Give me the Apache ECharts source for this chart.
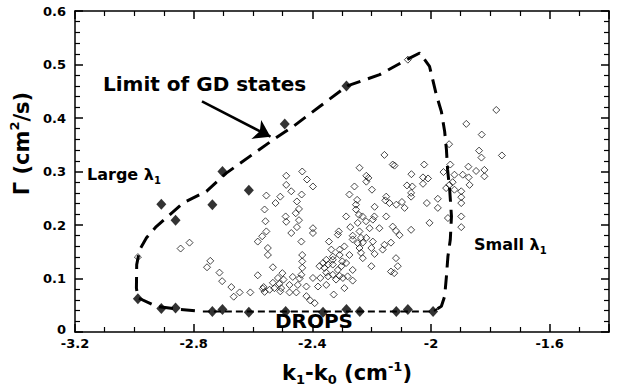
<!DOCTYPE html>
<html><head><meta charset="utf-8">
<script src="https://cdn.jsdelivr.net/npm/echarts/dist/echarts.min.js"></script>
<style>html,body{margin:0;padding:0;background:#fff}#c{width:622px;height:390px}</style>
</head><body><div id="c"></div>
<script>
// Axis ranges / ticks
const xRange = [-3.2, -1.4], xStep = 0.4;
const yRange = [0, 0.6], yStep = 0.1;

// Open diamonds: GD states (k1-k0, Gamma)
const openPts = [
[-2.844,0.156],[-2.814,0.167],[-2.755,0.121],[-2.744,0.133],[-2.713,0.111],[-2.704,0.095],[-2.673,0.084],[-2.645,0.074],[-2.665,0.066],[-2.609,0.074],[-2.584,0.106],[-2.567,0.081],[-2.561,0.075],
[-2.584,0.169],[-2.569,0.179],[-2.555,0.188],[-2.558,0.207],[-2.561,0.229],[-2.550,0.157],[-2.550,0.144],[-2.555,0.255],[-2.524,0.241],[-2.508,0.253],[-2.488,0.292],[-2.488,0.275],[-2.471,0.263],[-2.490,0.216],[-2.488,0.206],[-2.471,0.185],[-2.452,0.244],[-2.445,0.230],[-2.436,0.257],[-2.434,0.300],[-2.418,0.285],[-2.398,0.272],[-2.456,0.222],[-2.445,0.209],[-2.452,0.196],[-2.437,0.169],[-2.434,0.144],[-2.434,0.132],[-2.434,0.120],[-2.437,0.107],[-2.398,0.194],[-2.398,0.185],[-2.533,0.121],
[-2.564,0.084],[-2.544,0.079],[-2.533,0.092],[-2.516,0.101],[-2.511,0.090],[-2.505,0.082],[-2.528,0.082],[-2.508,0.076],[-2.497,0.098],[-2.501,0.110],[-2.477,0.088],[-2.477,0.074],[-2.454,0.074],[-2.466,0.103],[-2.449,0.088],[-2.420,0.085],[-2.420,0.067],[-2.407,0.059],[-2.392,0.054],[-2.381,0.085],[-2.443,0.100],
[-2.311,0.188],[-2.286,0.216],[-2.275,0.257],[-2.258,0.272],[-2.249,0.247],[-2.253,0.229],[-2.247,0.204],[-2.264,0.173],[-2.275,0.144],[-2.286,0.129],[-2.292,0.160],[-2.331,0.126],[-2.353,0.135],[-2.373,0.101],[-2.353,0.111],[-2.336,0.154],[-2.331,0.141],[-2.344,0.169],[-2.302,0.123],[-2.376,0.123],[-2.353,0.088],[-2.328,0.070],[-2.297,0.101],[-2.292,0.082],[-2.264,0.116],[-2.314,0.116],[-2.308,0.105],[-2.264,0.096],[-2.281,0.104],[-2.320,0.098],[-2.308,0.144],[-2.314,0.182],[-2.272,0.196],[-2.398,0.101],[-2.347,0.104],
[-2.157,0.331],[-2.129,0.313],[-2.241,0.307],[-2.218,0.292],[-2.211,0.288],[-2.218,0.281],[-2.199,0.266],[-2.253,0.238],[-2.190,0.234],[-2.151,0.253],[-2.154,0.246],[-2.140,0.241],[-2.231,0.216],[-2.219,0.207],[-2.191,0.216],[-2.174,0.194],[-2.207,0.194],[-2.241,0.188],[-2.264,0.180],[-2.236,0.176],[-2.230,0.167],[-2.247,0.166],[-2.241,0.157],[-2.218,0.176],[-2.196,0.169],[-2.201,0.157],[-2.190,0.146],[-2.157,0.163],[-2.135,0.167],[-2.163,0.154],[-2.201,0.123],[-2.236,0.148],[-2.308,0.154],[-2.299,0.132],[-2.364,0.129],[-2.347,0.126],[-2.331,0.135],[-2.359,0.120],[-2.331,0.107],[-2.243,0.219],[-2.196,0.210],[-2.151,0.216],[-2.230,0.138],[-2.135,0.113],[-2.118,0.138],[-2.112,0.123],[-2.124,0.110],
[-1.780,0.415],[-1.881,0.389],[-1.829,0.369],[-1.939,0.351],[-1.838,0.339],[-1.830,0.326],[-1.761,0.330],[-2.123,0.311],[-2.023,0.313],[-2.066,0.295],[-1.935,0.313],[-1.874,0.309],[-1.958,0.299],[-1.921,0.294],[-1.893,0.294],[-1.848,0.301],[-1.820,0.303],[-1.820,0.291],[-1.873,0.289],[-2.027,0.289],[-2.010,0.287],[-2.027,0.277],[-1.927,0.280],[-1.938,0.275],[-1.870,0.275],[-2.081,0.274],[-2.063,0.272],[-1.949,0.269],[-1.921,0.266],[-2.067,0.253],[-2.067,0.260],[-1.898,0.263],[-1.898,0.252],[-1.898,0.241],[-1.977,0.249],[-2.014,0.241],[-2.098,0.243],[-2.117,0.238],[-1.977,0.232],[-2.089,0.232],[-2.067,0.191],[-2.129,0.197],[-2.118,0.189],[-2.106,0.181],[-2.005,0.204],[-1.943,0.213],[-1.898,0.216],[-1.898,0.196],
[-2.078,0.509],[-2.988,0.140]
];

// Filled diamonds: limit points
const filledPts = [
[-2.909,0.239],[-2.861,0.209],[-2.737,0.238],[-2.614,0.265],[-2.703,0.300],[-2.493,0.389],[-2.285,0.460],
[-2.988,0.062],[-2.909,0.044],[-2.861,0.045],[-2.737,0.0385],[-2.703,0.042],[-2.614,0.037],[-2.490,0.0385],[-2.364,0.037],[-2.285,0.042],[-2.240,0.0385],[-2.117,0.0385],[-2.078,0.042],[-1.993,0.0385]
];

// Dashed limit curve (GD states)
const limitPath = [
[-1.978,0.0435],[-1.965,0.048],[-1.954,0.0665],[-1.948,0.104],[-1.943,0.141],[-1.935,0.1725],[-1.931,0.216],[-1.937,0.266],[-1.944,0.303],[-1.948,0.341],[-1.954,0.375],[-1.965,0.412],[-1.982,0.4435],[-2.005,0.4965],[-2.038,0.5215],[-2.072,0.512],[-2.173,0.481],[-2.282,0.460],[-2.374,0.422],[-2.465,0.384],[-2.533,0.359],[-2.690,0.297],[-2.757,0.263],[-2.836,0.241],[-2.881,0.219],[-2.926,0.197],[-2.959,0.176],[-2.982,0.154],[-2.992,0.126],[-2.993,0.082],[-2.988,0.064],[-2.926,0.048],[-2.858,0.043],[-2.769,0.0385]
];
// Dashed bottom (DROPS) line
const dropsPath = [[-2.769,0.0385],[-2.005,0.0385],[-1.988,0.040],[-1.978,0.0435]];

// Arrow from label to the limit curve
const arrowPts = [[-2.772,0.431],[-2.541,0.365]];

const FONT = '"DejaVu Sans", Verdana, sans-serif';
const chart = echarts.init(document.getElementById('c'), null, {renderer:'svg'});

function fmt(v) { return String(parseFloat(Number(v).toFixed(3))); }

function axisCommon(show, minorSplit, margin, showMax) {
  return {
    axisLine:{show:true, onZero:false, lineStyle:{color:'#000', width:1.5, opacity:1}},
    axisTick:{show:true, inside:true, length:8, lineStyle:{color:'#000', width:1.5, opacity:1}},
    minorTick:{show:true, splitNumber:minorSplit, length:5, lineStyle:{color:'#000', width:1.2, opacity:1}},
    splitLine:{show:false}, minorSplitLine:{show:false},
    axisLabel:{show:show, color:'#000', fontFamily:FONT, fontWeight:'bold', fontSize:13, lineHeight:13, margin:margin, showMaxLabel:showMax, showMinLabel:true}
  };
}
function xAx(pos, show) {
  return Object.assign({type:'value', position:pos, min:xRange[0], max:xRange[1], interval:xStep}, axisCommon(show, 4, 5, false));
}
function yAx(pos, show) {
  return Object.assign({type:'value', position:pos, min:yRange[0], max:yRange[1], interval:yStep}, axisCommon(show, 5, 9, true));
}
const xa0 = xAx('bottom', true);
xa0.name = '{m|k}{s|1}{m|-k}{s|0}{m| (cm}{p|-1}{m|)}';
xa0.nameLocation = 'middle';
xa0.nameGap = 28;
xa0.nameTextStyle = {color:'#000', fontFamily:FONT, fontWeight:'bold', fontSize:21, padding:[0,0,0,10],
  rich:{
    m:{fontFamily:FONT, fontWeight:'bold', fontSize:21, lineHeight:26, color:'#000'},
    s:{fontFamily:FONT, fontWeight:'bold', fontSize:13, lineHeight:11, verticalAlign:'bottom', color:'#000'},
    p:{fontFamily:FONT, fontWeight:'bold', fontSize:13, lineHeight:11, verticalAlign:'top', color:'#000'}
  }};
const ya0 = yAx('left', true);
ya0.axisLabel.formatter = function (v) { return v === 0 ? '{z|0}' : fmt(v); };
ya0.axisLabel.rich = {z:{fontFamily:FONT, fontWeight:'bold', fontSize:13, lineHeight:13, padding:[0,0,6,0], color:'#000'}};
ya0.name = '{m|Γ (cm}{p|2}{m|/s)}';
ya0.nameLocation = 'middle';
ya0.nameGap = 30;
ya0.nameTextStyle = {color:'#000', fontFamily:FONT, fontWeight:'bold', fontSize:21, padding:[0,0,0,56],
  rich:{
    m:{fontFamily:FONT, fontWeight:'bold', fontSize:21, lineHeight:28, color:'#000'},
    p:{fontFamily:FONT, fontWeight:'bold', fontSize:13, lineHeight:12, verticalAlign:'top', color:'#000'}
  }};

const lamRich = {
  a:{fontFamily:FONT, fontWeight:'bold', fontSize:16, lineHeight:22, color:'#000'},
  b:{fontFamily:FONT, fontWeight:'bold', fontSize:10, lineHeight:10, verticalAlign:'bottom', color:'#000'}
};

chart.setOption({
  animation:false,
  backgroundColor:'#fff',
  grid:{left:75, right:13, top:11, bottom:58, containLabel:false, outerBoundsMode:'none'},
  xAxis:[xa0, xAx('top', false)],
  yAxis:[ya0, yAx('right', false)],
  series:[
    {type:'line', data:limitPath, symbol:'none', silent:true, z:2,
     lineStyle:{color:'#000', width:3, type:[14,8]}},
    {type:'line', data:dropsPath, symbol:'none', silent:true, z:2,
     lineStyle:{color:'#000', width:2, type:[7,4]}},
    {type:'lines', coordinateSystem:'cartesian2d', silent:true, z:2,
     symbol:['none','arrow'], symbolSize:16,
     lineStyle:{color:'#000', width:2.5, opacity:1, curveness:0},
     itemStyle:{color:'#000'},
     data:[{coords:arrowPts}]},
    {type:'scatter', data:openPts, symbol:'diamond', symbolSize:7, silent:true, z:3,
     itemStyle:{color:'rgba(255,255,255,0)', borderColor:'#000', borderWidth:0.9}},
    {type:'scatter', data:filledPts, symbol:'diamond', symbolSize:[10,11], silent:true, z:4,
     itemStyle:{color:'#000'}}
  ],
  graphic:[
    {type:'text', style:{x:103, y:83.5, text:'Limit of GD states', fontFamily:FONT, fontSize:20, fontWeight:'bold', fill:'#000', verticalAlign:'middle'}},
    {type:'text', style:{x:87, y:174, text:'{a|Large λ}{b|1}', rich:lamRich, fontFamily:FONT, fontSize:16, fontWeight:'bold', fill:'#000', verticalAlign:'middle'}},
    {type:'text', style:{x:474, y:244, text:'{a|Small λ}{b|1}', rich:lamRich, fontFamily:FONT, fontSize:16, fontWeight:'bold', fill:'#000', verticalAlign:'middle'}},
    {type:'text', style:{x:314, y:321, text:'DROPS', fontFamily:FONT, fontSize:20, fontWeight:'bold', fill:'#000', align:'center', verticalAlign:'middle'}}
  ]
});
</script></body></html>
